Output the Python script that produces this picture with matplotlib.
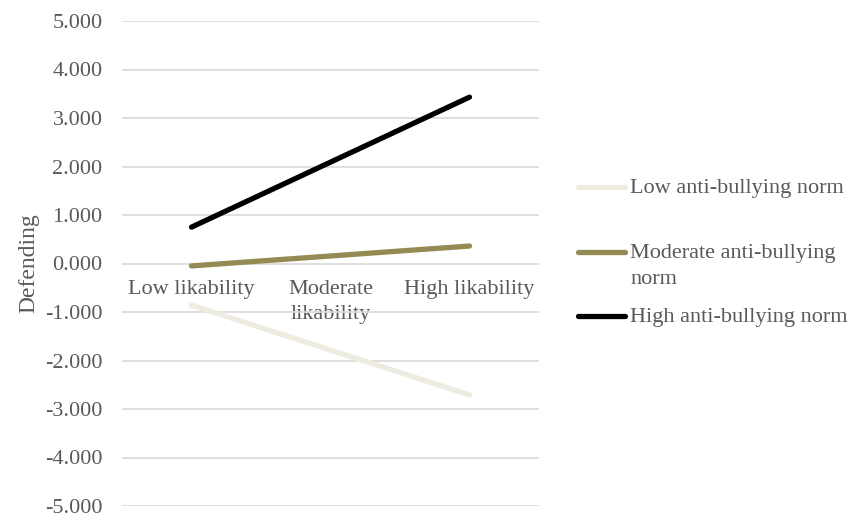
import numpy as np
import matplotlib.pyplot as plt
from matplotlib.lines import Line2D

plt.rcParams['font.family'] = ['Liberation Serif', 'DejaVu Serif']

categories = ["Low likability", "Moderate\nlikability", "High likability"]
series_names = ["Low anti-bullying norm", "Moderate anti-bullying\nnorm", "High anti-bullying norm"]
low_norm = [-0.86, np.nan, -2.71]
moderate_norm = [-0.05, np.nan, 0.36]
high_norm = [0.75, np.nan, 3.43]
colors = ["#EEECE1", "#948A54", "#000000"]
yticks = np.arange(-5, 6, 1)

text_grey = "#595959"

fig = plt.figure(figsize=(8.51, 5.17), dpi=100)
ax = fig.add_axes([122/851, 11/517, 417/851, 485/517])

x = np.arange(len(categories))
for vals, c in zip([low_norm, moderate_norm, high_norm], colors):
    v = np.array(vals, dtype=float)
    # straight line between low and high likability
    m = ~np.isnan(v)
    ax.plot(x[m], v[m], color=c, lw=3.8, solid_capstyle='round')

ax.set_xlim(-0.5, 2.5)
ax.set_ylim(-5, 5)
ax.set_yticks(yticks)
ax.set_yticklabels([f"{t:.3f}" for t in yticks], fontsize=16, color=text_grey)
ax.yaxis.grid(True, color="#D9D9D9", lw=1.2)
ax.set_axisbelow(True)
ax.tick_params(axis='y', length=0, pad=14)

ax.spines['bottom'].set_position(('data', 0))
for s in ax.spines.values():
    s.set_visible(False)
ax.set_xticks(x)
ax.set_xticklabels(categories, fontsize=16, color=text_grey, linespacing=1.45)
ax.tick_params(axis='x', length=0, pad=12)

ax.set_ylabel("Defending", fontsize=17, color=text_grey, labelpad=4)

# legend
leg_y = [187, 252, 316]
for name, c, yy in zip(series_names, colors, leg_y):
    yf = 1 - yy/517
    fig.add_artist(Line2D([578/851, 625/851], [yf, yf], color=c, lw=3.8,
                          solid_capstyle='round', transform=fig.transFigure))
    fig.text(630/851, yf + 0.015, name, fontsize=16, color=text_grey,
             va='top', ha='left', linespacing=1.45)

fig.savefig("out.png", dpi=100)
